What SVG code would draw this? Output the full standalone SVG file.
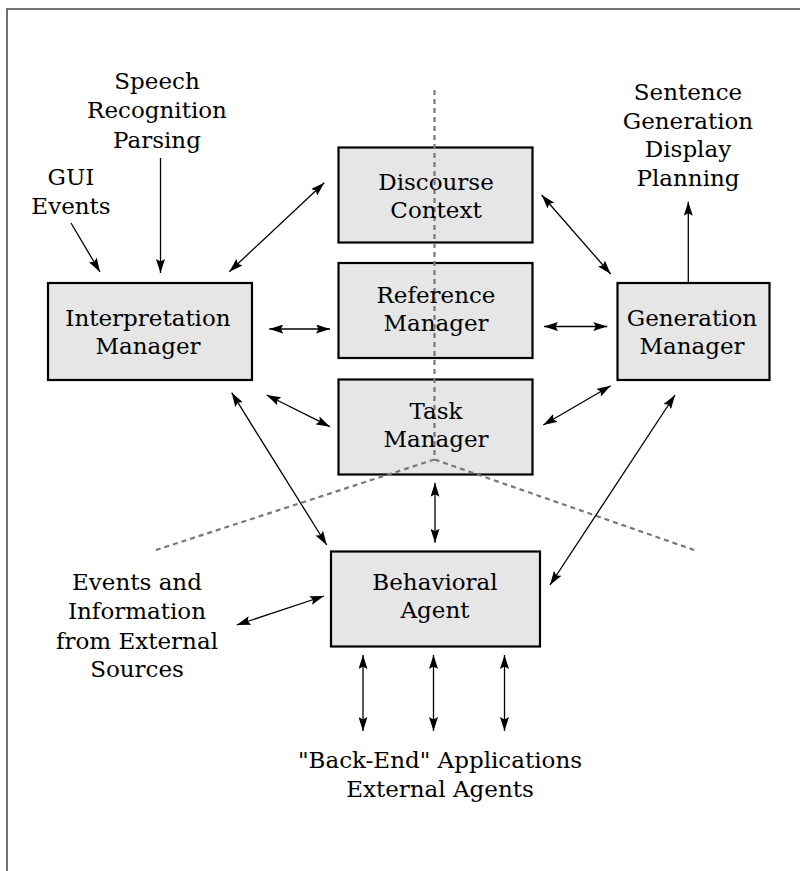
<svg xmlns="http://www.w3.org/2000/svg" width="800" height="871" viewBox="0 0 800 871">
<defs>
<style>
.box{fill:#e6e6e6;stroke:#000;stroke-width:2.2}
.t{font-family:"DejaVu Serif","Liberation Serif",serif;font-size:23px;fill:#000;text-anchor:middle}
.c{stroke:#000;stroke-width:1.3;fill:none}
.bi{marker-start:url(#ah);marker-end:url(#ah)}
.one{marker-end:url(#ah)}
.dash{stroke:#777;stroke-width:2.2;stroke-dasharray:5,4;fill:none}
</style>
<marker id="ah" viewBox="0 0 14 9" refX="14" refY="4.5" markerWidth="14" markerHeight="9" markerUnits="userSpaceOnUse" orient="auto-start-reverse">
<path d="M0,0 L14,4.5 L0,9 L2.5,4.5 z" fill="#000"/>
</marker>
</defs>
<rect x="7" y="9" width="820" height="890" fill="#fff" stroke="#444" stroke-width="1.5"/>

<g id="nodes">
<g id="interpretation"><rect class="box" x="48" y="283" width="204" height="97"/><text class="t" x="148" y="325.5">Interpretation</text><text class="t" x="148" y="354">Manager</text></g>
<g id="discourse"><rect class="box" x="338.5" y="147.5" width="194" height="95"/></g>
<g id="reference"><rect class="box" x="338.5" y="263" width="194" height="95"/></g>
<g id="task"><rect class="box" x="338.5" y="379.5" width="194" height="95"/></g>
<g id="generation"><rect class="box" x="617.5" y="283" width="152" height="97"/><text class="t" x="692" y="325.5">Generation</text><text class="t" x="692" y="354">Manager</text></g>
<g id="behavioral"><rect class="box" x="331" y="551.5" width="209" height="95"/></g>
</g>

<g id="dividers">
<line class="dash" x1="434.5" y1="90" x2="434.5" y2="459.5"/>
<line class="dash" x1="434.5" y1="459.5" x2="153" y2="551"/>
<line class="dash" x1="434.5" y1="459.5" x2="697" y2="551"/>
</g>

<g id="center-labels">
<text class="t" x="436" y="189.5">Discourse</text><text class="t" x="436" y="218">Context</text>
<text class="t" x="436" y="303">Reference</text><text class="t" x="436" y="331">Manager</text>
<text class="t" x="436" y="418.5">Task</text><text class="t" x="436" y="447">Manager</text>
<text class="t" x="435" y="589.5">Behavioral</text><text class="t" x="435" y="618">Agent</text>
</g>

<g id="labels">
<g id="speech"><text class="t" x="157" y="89">Speech</text><text class="t" x="157" y="118">Recognition</text><text class="t" x="157" y="147.5">Parsing</text></g>
<g id="gui"><text class="t" x="71" y="185">GUI</text><text class="t" x="71" y="213.5">Events</text></g>
<g id="sentence"><text class="t" x="688" y="100">Sentence</text><text class="t" x="688" y="128.5">Generation</text><text class="t" x="688" y="157">Display</text><text class="t" x="688" y="186">Planning</text></g>
<g id="external"><text class="t" x="137" y="589.5">Events and</text><text class="t" x="137" y="619">Information</text><text class="t" x="137" y="648.5">from External</text><text class="t" x="137" y="677">Sources</text></g>
<g id="backend"><text class="t" x="440" y="768">"Back-End" Applications</text><text class="t" x="440" y="796.5">External Agents</text></g>
</g>

<g id="connectors">
<line class="c one" x1="71" y1="223" x2="100" y2="272"/>
<line class="c one" x1="160.5" y1="158" x2="160.5" y2="273"/>
<line class="c bi" x1="229.3" y1="271.7" x2="324.3" y2="182.7"/>
<line class="c bi" x1="269.3" y1="329" x2="330" y2="329"/>
<line class="c bi" x1="266.7" y1="395" x2="330" y2="426.7"/>
<line class="c bi" x1="231.7" y1="392.7" x2="326.7" y2="545"/>
<line class="c bi" x1="541.7" y1="195" x2="610.7" y2="274"/>
<line class="c bi" x1="544" y1="326.5" x2="607.3" y2="326.5"/>
<line class="c one" x1="688.3" y1="283" x2="688.3" y2="201.7"/>
<line class="c bi" x1="543.3" y1="425" x2="610.7" y2="385.7"/>
<line class="c bi" x1="550" y1="585" x2="675" y2="395"/>
<line class="c bi" x1="435" y1="482.7" x2="435" y2="542.7"/>
<line class="c bi" x1="236.7" y1="625" x2="324" y2="596"/>
<line class="c bi" x1="363" y1="655" x2="363" y2="731"/>
<line class="c bi" x1="433.5" y1="655" x2="433.5" y2="731"/>
<line class="c bi" x1="504.5" y1="655" x2="504.5" y2="731"/>
</g>
</svg>
